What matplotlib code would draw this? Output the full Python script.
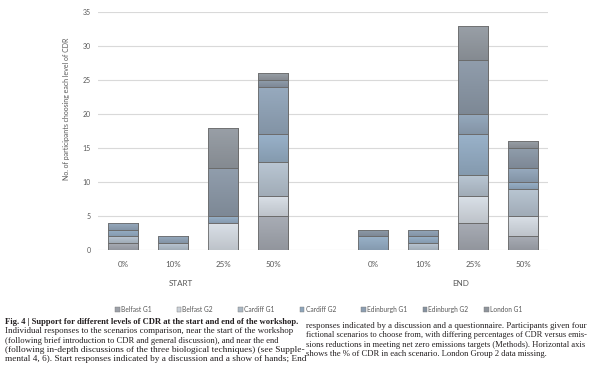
import numpy as np
import matplotlib
matplotlib.use("Agg")
import matplotlib.pyplot as plt
from matplotlib.patches import Rectangle
from matplotlib.colors import to_rgb

# ---- data ----
levels = ['0%', '10%', '25%', '50%']
phases = ['START', 'END']
groups = ['Belfast G1', 'Belfast G2', 'Cardiff G1', 'Cardiff G2',
          'Edinburgh G1', 'Edinburgh G2', 'London G1']
# counts per group: START 0/10/25/50 %, then END 0/10/25/50 %
belfast_g1 = [1, 0, 0, 5, 0, 0, 4, 2]
belfast_g2 = [0, 0, 4, 3, 0, 0, 4, 3]
cardiff_g1 = [1, 1, 0, 5, 0, 1, 3, 4]
cardiff_g2 = [1, 0, 1, 4, 2, 1, 6, 1]
edinburgh_g1 = [1, 1, 0, 7, 0, 1, 3, 2]
edinburgh_g2 = [0, 0, 7, 1, 1, 0, 8, 3]
london_g1 = [0, 0, 6, 1, 0, 0, 5, 1]

counts = [belfast_g1, belfast_g2, cardiff_g1, cardiff_g2,
          edinburgh_g1, edinburgh_g2, london_g1]
colors = ['#9da1a9', '#ccd2d9', '#adb9c5', '#8fa6bc',
          '#8d9fb2', '#8793a1', '#8f959c']

caption_left = [
    "Fig. 4 | Support for different levels of CDR at the start and end of the workshop.",
    "Individual responses to the scenarios comparison, near the start of the workshop",
    "(following brief introduction to CDR and general discussion), and near the end",
    "(following in-depth discussions of the three biological techniques) (see Supple-",
    "mental 4, 6). Start responses indicated by a discussion and a show of hands; End",
]
caption_right = [
    "responses indicated by a discussion and a questionnaire. Participants given four",
    "fictional scenarios to choose from, with differing percentages of CDR versus emis-",
    "sions reductions in meeting net zero emissions targets (Methods). Horizontal axis",
    "shows the % of CDR in each scenario. London Group 2 data missing.",
]

W, H = 609, 381
grey = '#595959'
plt.rcParams['font.family'] = ['Lato', 'DejaVu Sans']

fig = plt.figure(figsize=(W / 100, H / 100), dpi=100)
ax = fig.add_axes([98 / W, 1 - 250 / H, 450 / W, 238 / H])

# category positions: one empty slot between START and END
n = len(levels)
x = np.concatenate([np.arange(n), np.arange(n) + n + 1])

ramp = np.linspace(1.07, 0.93, 32)[:, None]   # light on top, darker below
bottom = np.zeros(len(x))
for name, vals, c in zip(groups, counts, colors):
    vals = np.array(vals)
    bars = ax.bar(x, vals, 0.6, bottom=bottom, color=c, edgecolor='#6b6b6b',
                  linewidth=0.6, zorder=3, label=name)
    grad = np.clip(np.array(to_rgb(c))[None, None, :] * ramp[:, :, None], 0, 1)
    for b in bars:
        if b.get_height() == 0:
            continue
        x0, y0 = b.get_x(), b.get_y()
        im = ax.imshow(grad, extent=(x0, x0 + b.get_width(), y0, y0 + b.get_height()),
                       aspect='auto', origin='upper', zorder=3.5)
        im.set_clip_path(b)
        # outline on top of the gradient
        ax.add_patch(Rectangle((x0, y0), b.get_width(), b.get_height(),
                               fill=False, edgecolor='#6b6b6b', linewidth=0.6,
                               zorder=4))
    bottom += vals

ax.set_xlim(-0.5, 2 * n + 0.5)
ax.set_ylim(0, 35)
ax.set_yticks(range(0, 36, 5))
ax.set_xticks(x)
ax.set_xticklabels(levels * 2)
ax.grid(axis='y', color='#d9d9d9', linewidth=0.8, zorder=0)
for s in ax.spines.values():
    s.set_visible(False)
ax.tick_params(axis='y', length=0, labelsize=5, labelcolor=grey, pad=5)
ax.tick_params(axis='x', length=0, labelsize=5.8, labelcolor=grey, pad=8)

fig.text(67 / W, 1 - 109 / H, 'No. of participants choosing each level of CDR',
         rotation=90, ha='center', va='center', fontsize=5, color=grey)
for ph, px in zip(phases, [181, 461]):
    fig.text(px / W, 1 - 284 / H, ph, ha='center', va='center',
             fontsize=5.8, color=grey)

# legend, evenly spaced like the original
for i, (name, c) in enumerate(zip(groups, colors)):
    lx = 115 + i * 61.5
    fig.patches.append(Rectangle((lx / W, 1 - 311.5 / H), 4.5 / W, 4.5 / H,
                                 transform=fig.transFigure, facecolor=c,
                                 edgecolor='#777777', linewidth=0.3))
    fig.text((lx + 6) / W, 1 - 309.5 / H, name, ha='left', va='center',
             fontsize=4.8, color=grey)

# caption, each line stretched to its column width
fig.canvas.draw()
renderer = fig.canvas.get_renderer()


def put_line(x0, x1, y, s, bold=False):
    t = fig.text(x0 / W, 1 - y / H, s, ha='left', va='center', fontsize=5.6,
                 family='Liberation Serif', color='#231f20',
                 fontweight='bold' if bold else 'normal')
    w = t.get_window_extent(renderer).width
    t.set_fontsize(5.6 * (x1 - x0) / w)
    return t


lefts_end = [301, 290, 279, 302, 301]
for i, (s, e) in enumerate(zip(caption_left, lefts_end)):
    put_line(5, e, 322 + i * 9.3, s, bold=(i == 0))
rights_end = [583, 585, 583, 548]
for i, (s, e) in enumerate(zip(caption_right, rights_end)):
    put_line(306, e, 326 + i * 9.3, s)

fig.savefig('out.png', dpi=100)
